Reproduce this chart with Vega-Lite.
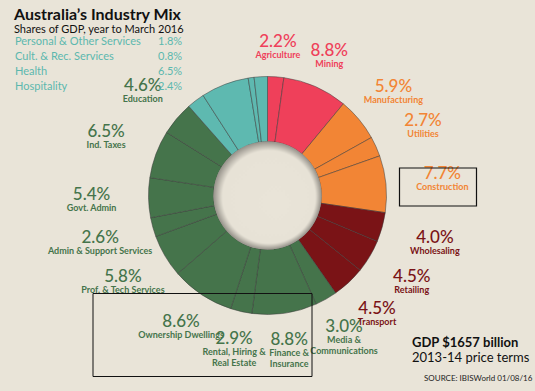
{
  "$schema": "https://vega.github.io/schema/vega-lite/v6.json",
  "width": 535,
  "height": 391,
  "autosize": {"type": "fit", "contains": "padding"},
  "padding": 0,
  "background": "#E9E4D8",
  "config": {"view": {"stroke": null}, "font": "Lato"},
  "title": {
    "text": "Australia’s Industry Mix",
    "subtitle": "Shares of GDP, year to March 2016",
    "anchor": "start",
    "orient": "top",
    "frame": "group",
    "offset": -35,
    "dx": 14,
    "font": "Lato",
    "fontSize": 16,
    "fontWeight": "bold",
    "color": "#111111",
    "subtitleFont": "Lato",
    "subtitleFontSize": 11,
    "subtitleColor": "#111111",
    "subtitlePadding": 1
  },
  "datasets": {
    "industries": [
      {"idx": 1, "industry": "Agriculture", "sector": "Primary", "share": 2.2, "pct": "2.2%"},
      {"idx": 2, "industry": "Mining", "sector": "Primary", "share": 8.8, "pct": "8.8%"},
      {"idx": 3, "industry": "Manufacturing", "sector": "Industrial", "share": 5.9, "pct": "5.9%"},
      {"idx": 4, "industry": "Utilities", "sector": "Industrial", "share": 2.7, "pct": "2.7%"},
      {"idx": 5, "industry": "Construction", "sector": "Industrial", "share": 7.7, "pct": "7.7%"},
      {"idx": 6, "industry": "Wholesaling", "sector": "Trade", "share": 4.0, "pct": "4.0%"},
      {"idx": 7, "industry": "Retailing", "sector": "Trade", "share": 4.5, "pct": "4.5%"},
      {"idx": 8, "industry": "Transport", "sector": "Trade", "share": 4.5, "pct": "4.5%"},
      {"idx": 9, "industry": "Media &\nCommunications", "sector": "Services", "share": 3.0, "pct": "3.0%"},
      {"idx": 10, "industry": "Finance &\nInsurance", "sector": "Services", "share": 8.8, "pct": "8.8%"},
      {"idx": 11, "industry": "Rental, Hiring &\nReal Estate", "sector": "Services", "share": 2.9, "pct": "2.9%"},
      {"idx": 12, "industry": "Ownership Dwellings", "sector": "Services", "share": 8.6, "pct": "8.6%"},
      {"idx": 13, "industry": "Prof. & Tech Services", "sector": "Services", "share": 5.8, "pct": "5.8%"},
      {"idx": 14, "industry": "Admin & Support Services", "sector": "Services", "share": 2.6, "pct": "2.6%"},
      {"idx": 15, "industry": "Govt. Admin", "sector": "Services", "share": 5.4, "pct": "5.4%"},
      {"idx": 16, "industry": "Ind. Taxes", "sector": "Services", "share": 6.5, "pct": "6.5%"},
      {"idx": 17, "industry": "Education", "sector": "Services", "share": 4.6, "pct": "4.6%"},
      {"idx": 18, "industry": "Hospitality", "sector": "Household", "share": 2.4, "pct": "2.4%"},
      {"idx": 19, "industry": "Health", "sector": "Household", "share": 6.5, "pct": "6.5%"},
      {"idx": 20, "industry": "Cult. & Rec. Services", "sector": "Household", "share": 0.8, "pct": "0.8%"},
      {"idx": 21, "industry": "Personal & Other Services", "sector": "Household", "share": 1.8, "pct": "1.8%"}
    ]
  },
  "layer": [
    {
      "data": {"name": "industries"},
      "mark": {"type": "arc", "radius": 119, "radius2": 54, "stroke": "#3a3a3a", "strokeWidth": 0.5},
      "encoding": {
        "theta": {"field": "share", "type": "quantitative", "stack": true},
        "order": {"field": "idx", "type": "quantitative"},
        "color": {
          "field": "sector",
          "type": "nominal",
          "legend": null,
          "scale": {
            "domain": ["Primary", "Industrial", "Trade", "Services", "Household"],
            "range": ["#EF405A", "#F28535", "#7A1316", "#45744B", "#5EB9B0"]
          }
        }
      }
    },
    {
      "data": {"values": [{"part": "centre"}]},
      "mark": {
        "type": "arc",
        "theta": 0,
        "theta2": 6.2832,
        "radius": 54,
        "radius2": 0,
        "fill": {
          "gradient": "radial",
          "x1": 0.6, "y1": 0.6, "r1": 0,
          "x2": 0.5, "y2": 0.5, "r2": 0.5,
          "stops": [
            {"offset": 0, "color": "#E9E4D8"},
            {"offset": 0.86, "color": "#E7E2D6"},
            {"offset": 1, "color": "#96928A"}
          ]
        }
      },
      "encoding": {}
    },
    {
      "data": {"name": "industries"},
      "mark": {
        "type": "text",
        "radius": {"expr": "176*150/sqrt(pow(150*sin(scale('theta', (datum.share_start + datum.share_end)/2)), 2) + pow(176*cos(scale('theta', (datum.share_start + datum.share_end)/2)), 2))"},
        "fontSize": 17, "fontWeight": 500, "baseline": "alphabetic", "align": "center", "dy": 1
      },
      "encoding": {
        "theta": {"field": "share", "type": "quantitative", "stack": true},
        "order": {"field": "idx", "type": "quantitative"},
        "text": {"field": "pct"},
        "color": {"field": "sector", "type": "nominal", "legend": null},
        "opacity": {"condition": {"test": "datum.sector === 'Household'", "value": 0}, "value": 1}
      }
    },
    {
      "data": {"name": "industries"},
      "mark": {
        "type": "text",
        "radius": {"expr": "176*150/sqrt(pow(150*sin(scale('theta', (datum.share_start + datum.share_end)/2)), 2) + pow(176*cos(scale('theta', (datum.share_start + datum.share_end)/2)), 2))"},
        "fontSize": 9, "fontWeight": "bold", "baseline": "top", "align": "center", "dy": 5, "lineBreak": "\n", "lineHeight": 11
      },
      "encoding": {
        "theta": {"field": "share", "type": "quantitative", "stack": true},
        "order": {"field": "idx", "type": "quantitative"},
        "text": {"field": "industry"},
        "color": {"field": "sector", "type": "nominal", "legend": null},
        "opacity": {"condition": {"test": "datum.sector === 'Household'", "value": 0}, "value": 1}
      }
    },
    {
      "data": {"name": "industries"},
      "transform": [{"filter": "datum.sector === 'Household'"}],
      "mark": {"type": "point", "opacity": 0, "size": 0},
      "encoding": {
        "shape": {
          "field": "industry",
          "type": "nominal",
          "sort": {"field": "idx", "op": "min", "order": "descending"},
          "legend": {
            "orient": "none",
            "legendX": 4,
            "legendY": 36,
            "title": null,
            "rowPadding": 3,
            "labelFont": "Lato",
            "labelFontSize": 11,
            "labelColor": "#5CB8AE",
            "symbolSize": 0,
            "symbolOpacity": 0,
            "symbolStrokeWidth": 0,
            "labelOffset": 0,
            "padding": 0
          }
        },
        "stroke": {
          "field": "pct",
          "type": "nominal",
          "sort": {"field": "idx", "op": "min", "order": "descending"},
          "legend": {
            "orient": "none",
            "legendX": 147,
            "legendY": 36,
            "title": null,
            "rowPadding": 3,
            "labelFont": "Lato",
            "labelFontSize": 11,
            "labelColor": "#5CB8AE",
            "symbolSize": 0,
            "symbolOpacity": 0,
            "symbolStrokeWidth": 0,
            "labelOffset": 0,
            "padding": 0
          }
        }
      }
    },
    {
      "data": {"values": [{"note": "2013-14 price terms"}]},
      "mark": {"type": "point", "opacity": 0, "size": 0},
      "encoding": {
        "strokeDash": {
          "field": "note",
          "type": "nominal",
          "legend": {
            "orient": "none",
            "legendX": 412,
            "legendY": 337,
            "title": "GDP $1657 billion",
            "titleFont": "Lato",
            "titleFontSize": 13,
            "titleFontWeight": "bold",
            "titleColor": "#111111",
            "titlePadding": 1,
            "labelFont": "Lato",
            "labelFontSize": 13,
            "labelColor": "#111111",
            "symbolSize": 0,
            "symbolOpacity": 0,
            "symbolStrokeWidth": 0,
            "labelOffset": -13,
            "padding": 0
          }
        }
      }
    },
    {
      "data": {"values": [{"source": "SOURCE: IBISWorld 01/08/16"}]},
      "mark": {"type": "point", "opacity": 0, "size": 0},
      "encoding": {
        "opacity": {
          "field": "source",
          "type": "nominal",
          "legend": {
            "orient": "none",
            "legendX": 416,
            "legendY": 375,
            "title": null,
            "labelFont": "Lato",
            "labelFontSize": 8,
            "labelColor": "#222222",
            "symbolSize": 0,
            "symbolOpacity": 0,
            "symbolStrokeWidth": 0,
            "labelOffset": 0,
            "padding": 0
          }
        }
      }
    },
    {
      "data": {"values": [{"focus": "Construction"}]},
      "mark": {"type": "point", "size": 0},
      "encoding": {
        "fill": {
          "field": "focus",
          "type": "nominal",
          "scale": {"range": ["transparent"]},
          "legend": {
            "orient": "none",
            "legendX": 398.5,
            "legendY": 147.5,
            "title": null,
            "labelExpr": "''",
            "symbolType": "M-1,-0.4935H1V0.4935H-1Z",
            "symbolSize": 5929,
            "symbolStrokeColor": "#111111",
            "symbolFillColor": "transparent",
            "symbolStrokeWidth": 1.2,
            "symbolOpacity": 1,
            "padding": 0
          }
        }
      }
    },
    {
      "data": {"values": [{"highlight": "Property & Finance"}]},
      "mark": {"type": "point", "size": 0},
      "encoding": {
        "strokeWidth": {
          "field": "highlight",
          "type": "nominal",
          "scale": {"range": [1.2]},
          "legend": {
            "orient": "none",
            "legendX": 202.5,
            "legendY": 335,
            "title": null,
            "labelExpr": "''",
            "symbolType": "M-1,-0.379H1V0.379H-1Z",
            "symbolSize": 47961,
            "symbolStrokeColor": "#111111",
            "symbolFillColor": "transparent",
            "symbolOpacity": 1,
            "padding": 0
          }
        }
      }
    }
  ]
}
